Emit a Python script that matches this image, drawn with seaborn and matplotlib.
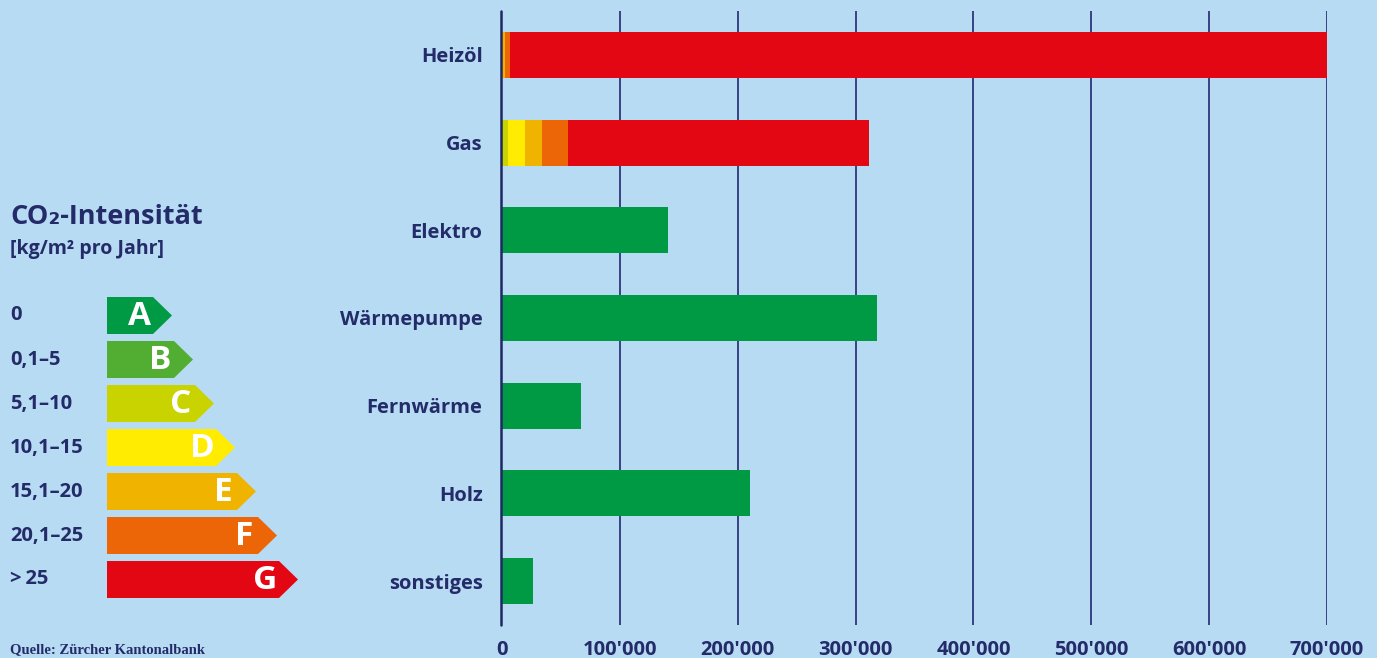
import matplotlib
matplotlib.use("Agg")
import matplotlib.pyplot as plt
import seaborn as sns
import pandas as pd
from matplotlib.patches import Polygon
from matplotlib.lines import Line2D
from matplotlib.ticker import FuncFormatter

# ---------------- data ----------------
categories = ["Heizöl", "Gas", "Elektro", "Wärmepumpe", "Fernwärme", "Holz", "sonstiges"]
seg_A = [0, 0, 141000, 318000, 67000, 210000, 26000]
seg_B = [0, 0, 0, 0, 0, 0, 0]
seg_C = [0, 5000, 0, 0, 0, 0, 0]
seg_D = [0, 14500, 0, 0, 0, 0, 0]
seg_E = [2200, 14500, 0, 0, 0, 0, 0]
seg_F = [4500, 22000, 0, 0, 0, 0, 0]
seg_G = [693300, 255000, 0, 0, 0, 0, 0]

classes = ["A", "B", "C", "D", "E", "F", "G"]
class_ranges = ["0", "0,1–5", "5,1–10", "10,1–15", "15,1–20", "20,1–25", ">\u200925"]
class_colors = ["#009a44", "#52ae32", "#c9d300", "#ffec00", "#f0b400", "#ec6608", "#e30613"]

xticks = [0, 100000, 200000, 300000, 400000, 500000, 600000, 700000]

BG = "#b8dbf4"
NAVY = "#232b68"
GRID = "#2e3878"

# ---------------- figure ----------------
sns.set_theme(style="white")
plt.rcParams["font.family"] = ["Open Sans", "DejaVu Sans"]

W, H = 1377, 658


def fx(x):
    return x / W


def fy(y):
    return (H - y) / H


fig = plt.figure(figsize=(W / 100, H / 100), dpi=100, facecolor=BG)
ax = fig.add_axes([502 / W, (H - 625) / H, 825 / W, 614 / H])
ax.set_facecolor(BG)

segs = [seg_A, seg_B, seg_C, seg_D, seg_E, seg_F, seg_G]
cum = []
run = [0] * len(categories)
for s in segs:
    run = [r + v for r, v in zip(run, s)]
    cum.append(list(run))

# draw cumulative bars from the outermost class inward (stacked look)
for k in range(len(classes) - 1, -1, -1):
    df = pd.DataFrame({"cat": categories, "val": cum[k]})
    sns.barplot(data=df, x="val", y="cat", orient="h", order=categories,
                color=class_colors[k], saturation=1, width=0.525,
                linewidth=0, edgecolor="none", ax=ax, zorder=3)

ax.set_xlim(0, 700000)
ax.set_ylim(6.5, -0.5)
ax.set_xticks(xticks)
ax.xaxis.set_major_formatter(FuncFormatter(lambda v, p: f"{int(v):,}".replace(",", "'")))
for v in xticks[1:]:
    ax.axvline(v, color=GRID, lw=1.3, zorder=1)

# zero axis line just left of the bars
fig.add_artist(Line2D([fx(500.8), fx(500.8)], [fy(11), fy(625)],
                      transform=fig.transFigure, color="#1f2764", lw=1.8))

for sp in ax.spines.values():
    sp.set_visible(False)
ax.set_xlabel("")
ax.set_ylabel("")
ax.tick_params(axis="x", length=0, pad=11, labelsize=14.5, labelcolor=NAVY)
ax.tick_params(axis="y", length=0, pad=14, labelsize=14.5, labelcolor=NAVY)
for t in ax.get_xticklabels() + ax.get_yticklabels():
    t.set_fontweight("bold")
ax.grid(False)

# ---------------- legend (energy label arrows) ----------------
fig.text(fx(10), fy(217), "CO₂-Intensität", fontsize=19.5, fontweight="bold",
         color=NAVY, va="center", ha="left")
fig.text(fx(10), fy(249), "[kg/m² pro Jahr]", fontsize=14, fontweight="bold",
         color=NAVY, va="center", ha="left")

for i, (lab, rng, col) in enumerate(zip(classes, class_ranges, class_colors)):
    top = 297 + 44 * i
    h = 37
    left = 107
    right = 153 + 21 * i
    tip = right + 19
    pts = [(fx(left), fy(top)), (fx(right), fy(top)), (fx(tip), fy(top + h / 2)),
           (fx(right), fy(top + h)), (fx(left), fy(top + h))]
    fig.add_artist(Polygon(pts, closed=True, transform=fig.transFigure,
                           facecolor=col, edgecolor="none"))
    fig.text(fx(right - 14), fy(top + h / 2 + 1), lab, fontsize=24, fontweight="bold",
             color="white", ha="center", va="center")
    fig.text(fx(10), fy(top + h / 2), rng, fontsize=14.5, fontweight="bold",
             color=NAVY, ha="left", va="center")

fig.text(fx(10), fy(650), "Quelle: Zürcher Kantonalbank", fontsize=10.5,
         fontweight="bold", family=["Liberation Serif", "DejaVu Serif"],
         color=NAVY, ha="left", va="center")

fig.savefig("out.png", dpi=100, facecolor=BG)
